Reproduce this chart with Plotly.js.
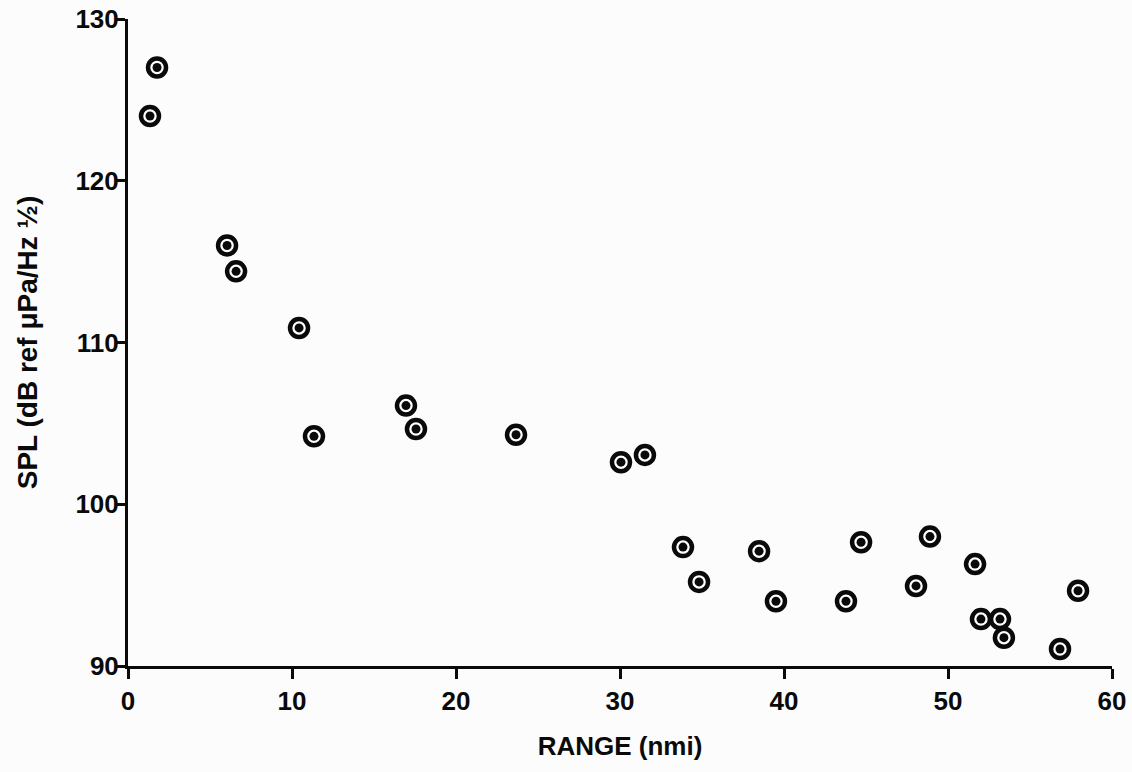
<!DOCTYPE html>
<html>
<head>
<meta charset="utf-8">
<script src="https://cdn.plot.ly/plotly-3.0.1.min.js"></script>
<style>
  html, body { margin: 0; padding: 0; background: #fcfcfc; }
  #chart { width: 1132px; height: 772px; }
</style>
</head>
<body>
<div id="chart"></div>
<script>
// Range (nmi) of each measurement
const rangeNmi = [1.34, 1.77, 6.04, 6.59, 10.43, 11.34, 16.95, 17.56, 23.66, 30.06, 31.52,
                  33.84, 34.82, 38.48, 39.51, 43.78, 44.70, 48.05, 48.90, 51.65, 52.01,
                  53.17, 53.41, 56.83, 57.93];
// SPL (dB ref µPa/Hz^1/2)
const splDb = [124.0, 127.0, 116.0, 114.4, 110.9, 104.2, 106.1, 104.65, 104.3, 102.6, 103.05,
               97.35, 95.2, 97.1, 94.0, 94.0, 97.65, 94.95, 98.0, 96.3, 92.9,
               92.9, 91.75, 91.05, 94.65];
const xTicks = [0, 10, 20, 30, 40, 50, 60];
const yTicks = [90, 100, 110, 120, 130];

const font = { family: 'Liberation Sans, Arial, sans-serif', color: '#0a0a0a', weight: 'bold' };

const ring = {
  x: rangeNmi, y: splDb, type: 'scatter', mode: 'markers', cliponaxis: false,
  hoverinfo: 'x+y',
  marker: { symbol: 'circle', size: 18, color: '#ffffff', line: { color: '#0a0a0a', width: 4.5 } }
};
const dot = {
  x: rangeNmi, y: splDb, type: 'scatter', mode: 'markers', cliponaxis: false,
  hoverinfo: 'skip',
  marker: { symbol: 'circle', size: 9, color: '#0a0a0a' }
};

const layout = {
  width: 1132, height: 772,
  margin: { l: 128, r: 20, t: 19, b: 106 },
  paper_bgcolor: '#fcfcfc', plot_bgcolor: '#fcfcfc',
  showlegend: false,
  font: font,
  xaxis: {
    range: [0, 60], tickvals: xTicks, ticktext: xTicks.map(String),
    showgrid: false, zeroline: false, showline: true, linecolor: '#0a0a0a', linewidth: 3,
    ticks: 'outside', ticklen: 10, tickwidth: 3, tickcolor: '#0a0a0a',
    tickfont: Object.assign({}, font, { size: 26 }),
    title: { text: 'RANGE (nmi)', font: Object.assign({}, font, { size: 26 }), standoff: 22 },
    fixedrange: true
  },
  yaxis: {
    range: [90, 130], tickvals: yTicks, ticktext: yTicks.map(String),
    showgrid: false, zeroline: false, showline: true, linecolor: '#0a0a0a', linewidth: 3,
    ticks: 'outside', ticklen: 9, tickwidth: 3, tickcolor: '#0a0a0a', ticklabelstandoff: -8,
    tickfont: Object.assign({}, font, { size: 26 }),
    title: { text: 'SPL (dB ref μPa/Hz ½)', font: Object.assign({}, font, { size: 28 }), standoff: 30 },
    fixedrange: true
  }
};

Plotly.newPlot('chart', [ring, dot], layout, { displayModeBar: false });
</script>
</body>
</html>
